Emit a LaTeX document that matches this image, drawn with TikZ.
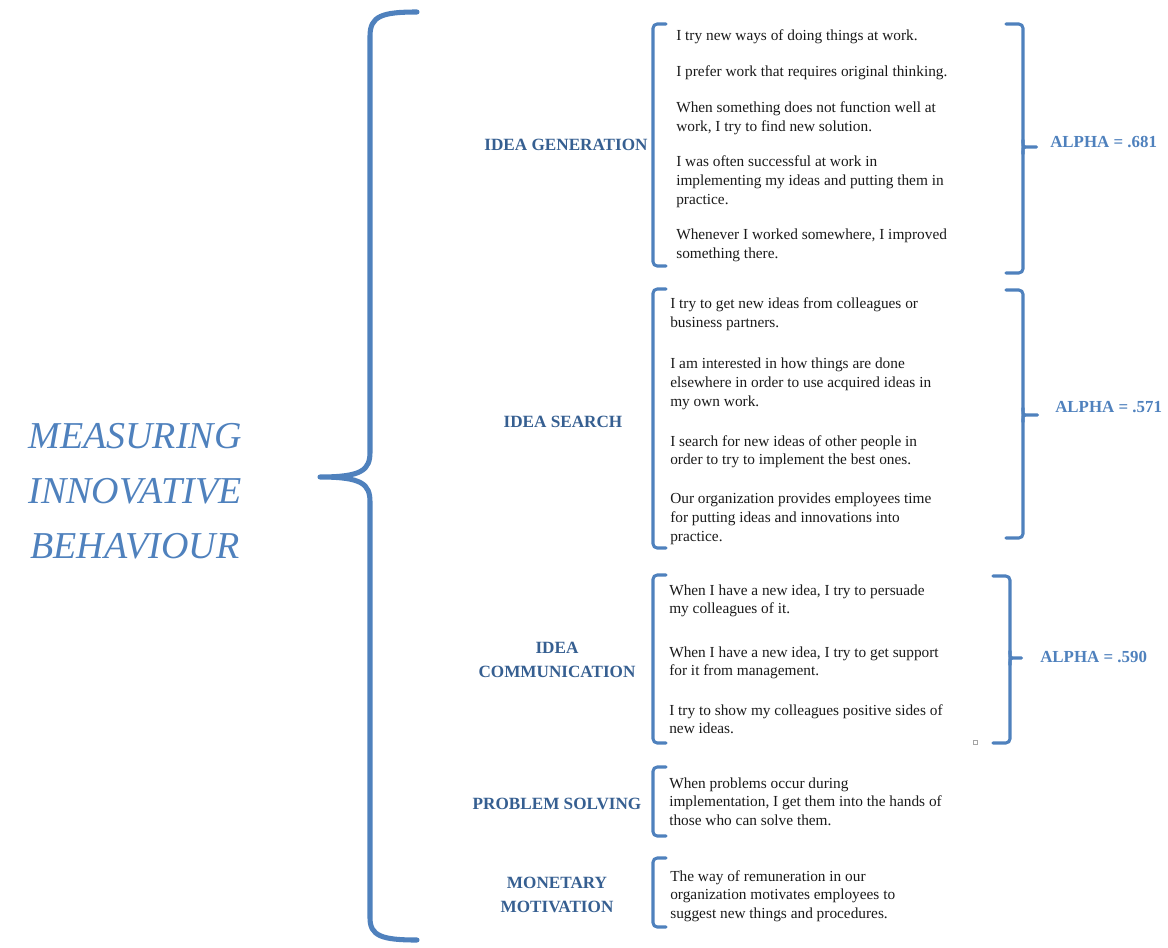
\documentclass[tikz,border=0pt]{standalone}
\usepackage{fontspec}
\setmainfont{Liberation Serif}
\definecolor{bracecol}{HTML}{4F81BD}
\definecolor{headcol}{HTML}{365F91}
\definecolor{bodycol}{HTML}{1A1A1A}

\begin{document}
\begin{tikzpicture}[x=0.025cm, y=-0.025cm,
    item/.style={anchor=base west, align=left, inner sep=0, text=bodycol, font=\fontsize{10.9}{13.16}\selectfont},
    dim/.style={anchor=base, align=center, inner sep=0, text=headcol, font=\bfseries\fontsize{12.2}{16.4}\selectfont},
    alphatext/.style={anchor=base west, inner sep=0, text=bracecol, font=\bfseries\fontsize{12}{14}\selectfont},
    bracket/.style={draw=bracecol, line width=2.2pt, rounded corners=3pt, line cap=round, line join=round},
    bigbrace/.style={draw=bracecol, line width=3.6pt, line cap=round, line join=round}]
    \useasboundingbox (0,0) rectangle (1168,947);

    % title and the big brace (base = last line)
    \node[anchor=base, align=center, inner sep=0, text=bracecol, font=\itshape\fontsize{27}{39.1}\selectfont] (measure) at (135,558) {MEASURING\\INNOVATIVE\\BEHAVIOUR};
    \draw[bigbrace] (417,12) .. controls (382,12) and (370,16) .. (370,36) -- (370,452)
        .. controls (370,470) and (362,477) .. (320,477)
        .. controls (362,477) and (370,484) .. (370,502) -- (370,918)
        .. controls (370,936) and (382,940) .. (417,940);

    % dimensions
    \node[dim] (gen) at (566,150) {IDEA GENERATION};
    \node[dim] (search) at (563,427) {IDEA SEARCH};
    \node[dim] (comm) at (557,677) {IDEA\\COMMUNICATION};
    \node[dim] (solve) at (557,809) {PROBLEM SOLVING};
    \node[dim] (money) at (557,912) {MONETARY\\MOTIVATION};

    % left brackets
    \draw[bracket] (666,24) -- (653,24) -- (653,266) -- (666,266);
    \draw[bracket] (666,289) -- (653,289) -- (653,548) -- (666,548);
    \draw[bracket] (666,575) -- (653,575) -- (653,743) -- (666,743);
    \draw[bracket] (666,767) -- (653,767) -- (653,836) -- (666,836);
    \draw[bracket] (666,858) -- (653,858) -- (653,927) -- (666,927);

    % items
    \node[item] (gen1) at (676,40) {I try new ways of doing things at work.};
    \node[item] (gen2) at (676,76) {I prefer work that requires original thinking.};
    \node[item] (gen3) at (676,131.5) {When something does not function well at\\work, I try to find new solution.};
    \node[item] (gen4) at (676,204) {I was often successful at work in\\implementing my ideas and putting them in\\practice.};
    \node[item] (gen5) at (676,258.5) {Whenever I worked somewhere, I improved\\something there.};

    \node[item] (search1) at (670,327.5) {I try to get new ideas from colleagues or\\business partners.};
    \node[item] (search2) at (670,406) {I am interested in how things are done\\elsewhere in order to use acquired ideas in\\my own work.};
    \node[item] (search3) at (670,464.5) {I search for new ideas of other people in\\order to try to implement the best ones.};
    \node[item] (search4) at (670,541) {Our organization provides employees time\\for putting ideas and innovations into\\practice.};

    \node[item] (comm1) at (669,613.5) {When I have a new idea, I try to persuade\\my colleagues of it.};
    \node[item] (comm2) at (669,675.5) {When I have a new idea, I try to get support\\for it from management.};
    \node[item] (comm3) at (669,733.5) {I try to show my colleagues positive sides of\\new ideas.};

    \node[item] (solve1) at (669,825) {When problems occur during\\implementation, I get them into the hands of\\those who can solve them.};
    \node[item] (money1) at (670,918) {The way of remuneration in our\\organization motivates employees to\\suggest new things and procedures.};

    \node[draw=gray!70, line width=0.3pt, inner sep=0, minimum size=0.1cm] (mark) at (975,742) {};

    % right brackets with alpha values
    \draw[bracket] (1006,24) -- (1023,24) -- (1023,273) -- (1006,273);
    \draw[bracket] (1023,140) .. controls (1023,147) .. (1030,147) -- (1039,147)
        -- (1030,147) .. controls (1023,147) .. (1023,154);
    \node[alphatext] (agen) at (1050,147) {ALPHA = .681};

    \draw[bracket] (1006,290) -- (1023,290) -- (1023,538) -- (1006,538);
    \draw[bracket] (1023,408) .. controls (1023,415) .. (1030,415) -- (1040,415)
        -- (1030,415) .. controls (1023,415) .. (1023,422);
    \node[alphatext] (asearch) at (1055,412) {ALPHA = .571};

    \draw[bracket] (993,576) -- (1010,576) -- (1010,743) -- (993,743);
    \draw[bracket] (1010,651) .. controls (1010,658) .. (1017,658) -- (1024,658)
        -- (1017,658) .. controls (1010,658) .. (1010,665);
    \node[alphatext] (acomm) at (1040,662) {ALPHA = .590};
\end{tikzpicture}
\end{document}
